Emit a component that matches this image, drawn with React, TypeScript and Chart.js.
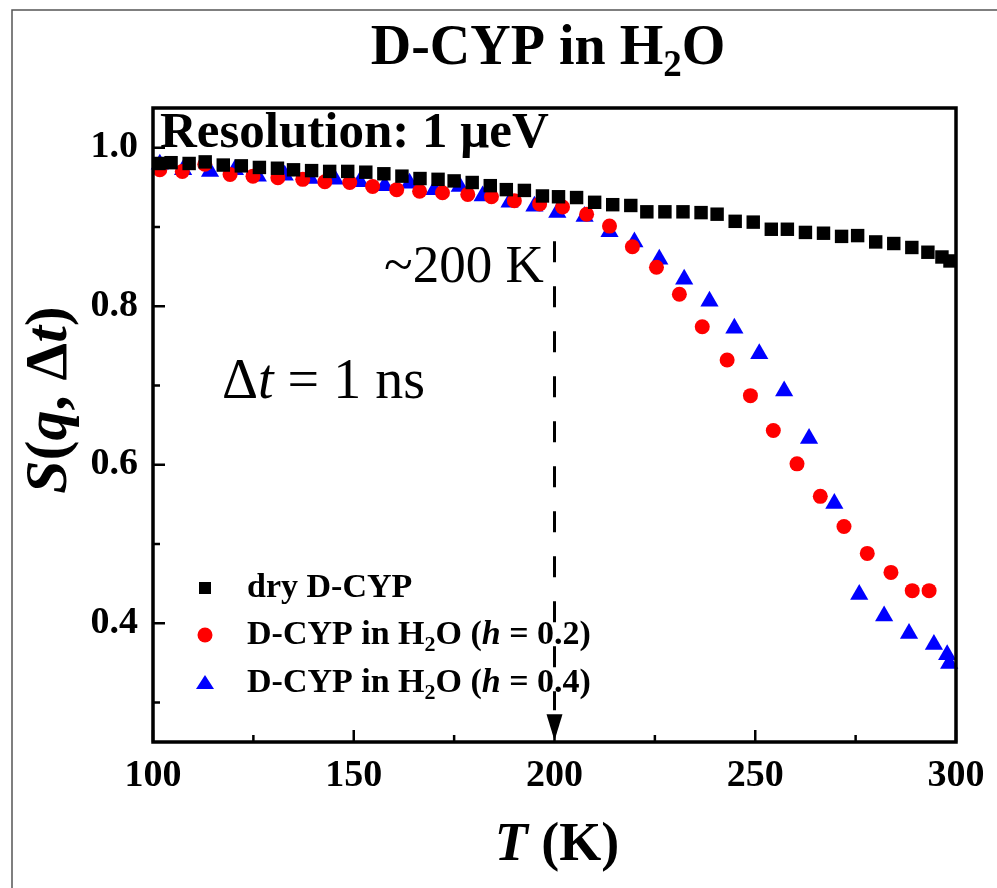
import React, { useEffect, useRef } from 'react';
import { Chart, registerables } from 'chart.js';

Chart.register(...registerables);

const FONT = '"Liberation Serif", "Times New Roman", serif';

// dry D-CYP (squares)
const dryT = [101.5, 104.5, 109, 113, 117.5, 122, 126.5, 131, 135, 139.5, 144, 148.5, 153, 157.5, 162, 166.5, 171, 175, 179.5, 184,
  188, 192.5, 197, 201, 205.5, 210, 214.5, 219, 223, 227.5, 232, 236.5, 240.5, 245, 249.5, 254, 258, 262.5, 267, 271.5, 275.5, 280,
  284.5, 289, 293, 296.5, 298.5];
const dryS = [0.980, 0.981, 0.980, 0.982, 0.978, 0.977, 0.975, 0.974, 0.972, 0.971, 0.970, 0.970, 0.969, 0.967, 0.964, 0.961, 0.960, 0.958, 0.956, 0.952,
  0.947, 0.946, 0.939, 0.938, 0.937, 0.931, 0.928, 0.927, 0.919, 0.919, 0.919, 0.918, 0.916, 0.907, 0.906, 0.897, 0.897, 0.893, 0.892, 0.888, 0.889, 0.881,
  0.879, 0.874, 0.868, 0.862, 0.857];

// D-CYP in H2O (h = 0.2) (circles)
const h02T = [101.7, 107.3, 112.9, 119.2, 124.9, 131.1, 137.3, 142.8, 149.0, 154.7, 160.7, 166.4, 172.1, 178.4, 184.3, 190.0, 196.3, 202.0,
  208.0, 213.7, 219.4, 225.4, 231.1, 236.8, 243.0, 248.8, 254.5, 260.4, 266.2, 272.1, 277.9, 283.8, 289.1, 293.3];
const h02S = [0.972, 0.970, 0.979, 0.966, 0.964, 0.962, 0.960, 0.957, 0.956, 0.951, 0.947, 0.945, 0.943, 0.941, 0.938, 0.933, 0.929, 0.925,
  0.916, 0.901, 0.875, 0.849, 0.815, 0.774, 0.732, 0.687, 0.643, 0.601, 0.560, 0.522, 0.488, 0.464, 0.441, 0.441];

// D-CYP in H2O (h = 0.4) (triangles)
const h04T = [101.7, 107.5, 114.2, 120.4, 126.1, 132.8, 139.1, 145.3, 151.5, 157.7, 163.9, 170.1, 176.4, 182.1, 188.8, 195.0, 200.7,
  207.5, 213.7, 219.9, 226.1, 232.3, 238.6, 244.8, 251.0, 257.2, 263.4, 269.7, 275.9, 282.1, 288.3, 294.5, 297.8, 298.3];
const h04S = [0.979, 0.972, 0.970, 0.972, 0.964, 0.965, 0.961, 0.960, 0.957, 0.952, 0.955, 0.947, 0.951, 0.939, 0.931, 0.926, 0.918,
  0.913, 0.894, 0.881, 0.859, 0.834, 0.806, 0.772, 0.740, 0.693, 0.633, 0.551, 0.436, 0.409, 0.387, 0.373, 0.360, 0.349];

const xMajorTicks = [100, 150, 200, 250, 300];
const xMinorTicks = [125, 175, 225, 275];
const yMajorTicks = [0.4, 0.6, 0.8, 1.0];
const yMinorTicks = [0.3, 0.5, 0.7, 0.9];

const xRange = [100, 300];
const yRange = [0.25, 1.05];

const transitionT = 200;
const dashRange = [0.882, 0.29];
const arrowRange = [0.285, 0.252];

type Part = { t: string; b?: boolean; i?: boolean; sub?: boolean };

function fontFor(p: Part, size: number, defBold: boolean) {
  const bold = p.b === undefined ? defBold : p.b;
  const s = p.sub ? Math.round(size * 0.66) : size;
  return `${p.i ? 'italic ' : ''}${bold ? 'bold ' : ''}${s}px ${FONT}`;
}

function drawRich(ctx: CanvasRenderingContext2D, parts: Part[], x: number, y: number, size: number, align: 'left' | 'center', defBold: boolean) {
  ctx.save();
  ctx.textBaseline = 'middle';
  ctx.textAlign = 'left';
  ctx.fillStyle = '#000';
  const widths = parts.map((p) => {
    ctx.font = fontFor(p, size, defBold);
    return ctx.measureText(p.t).width;
  });
  const total = widths.reduce((a, b) => a + b, 0);
  let cx = align === 'center' ? x - total / 2 : x;
  parts.forEach((p, k) => {
    ctx.font = fontFor(p, size, defBold);
    ctx.fillText(p.t, cx, p.sub ? y + size * 0.3 : y);
    cx += widths[k];
  });
  ctx.restore();
}

const decorPlugin = {
  id: 'decor',
  afterDatasetsDraw(chart: any) {
    const { ctx, chartArea, scales } = chart;
    const { left, right, top, bottom } = chartArea;
    const xs = scales.x;
    const ys = scales.y;
    ctx.save();

    // outer picture frame
    ctx.strokeStyle = '#555';
    ctx.lineWidth = 1.5;
    ctx.beginPath();
    ctx.moveTo(12, 888);
    ctx.lineTo(12, 10);
    ctx.lineTo(997, 10);
    ctx.stroke();

    // dashed transition line
    const px = xs.getPixelForValue(transitionT);
    ctx.strokeStyle = '#000';
    ctx.lineWidth = 3;
    ctx.setLineDash([21, 24]);
    ctx.beginPath();
    ctx.moveTo(px, ys.getPixelForValue(dashRange[0]));
    ctx.lineTo(px, ys.getPixelForValue(dashRange[1]));
    ctx.stroke();
    ctx.setLineDash([]);
    // arrow head
    const aTop = ys.getPixelForValue(arrowRange[0]);
    const aTip = ys.getPixelForValue(arrowRange[1]);
    ctx.fillStyle = '#000';
    ctx.beginPath();
    ctx.moveTo(px - 8, aTop);
    ctx.lineTo(px + 8, aTop);
    ctx.lineTo(px, aTip);
    ctx.closePath();
    ctx.fill();

    // inward ticks
    ctx.lineWidth = 2.5;
    ctx.beginPath();
    xMajorTicks.forEach((v) => {
      const p = xs.getPixelForValue(v);
      ctx.moveTo(p, bottom);
      ctx.lineTo(p, bottom - 12);
    });
    xMinorTicks.forEach((v) => {
      const p = xs.getPixelForValue(v);
      ctx.moveTo(p, bottom);
      ctx.lineTo(p, bottom - 7);
    });
    yMajorTicks.forEach((v) => {
      const p = ys.getPixelForValue(v);
      ctx.moveTo(left, p);
      ctx.lineTo(left + 12, p);
    });
    yMinorTicks.forEach((v) => {
      const p = ys.getPixelForValue(v);
      ctx.moveTo(left, p);
      ctx.lineTo(left + 7, p);
    });
    ctx.stroke();

    // plot frame
    ctx.lineWidth = 3.5;
    ctx.strokeRect(left, top, right - left, bottom - top);

    // title
    drawRich(ctx, [{ t: 'D-CYP in H' }, { t: '2', sub: true }, { t: 'O' }], 548, 50, 56, 'center', true);

    // annotations
    drawRich(ctx, [{ t: 'Resolution: 1 \u03bceV' }], 160, 134, 51, 'left', true);
    drawRich(ctx, [{ t: '~200 K' }], 384, 268, 53, 'left', false);
    drawRich(ctx, [{ t: '\u0394' }, { t: 't', i: true }, { t: ' = 1 ns' }], 222, 383, 56, 'left', false);

    // axis titles
    drawRich(ctx, [{ t: 'T', i: true }, { t: ' (K)' }], 557, 846, 54, 'center', true);
    ctx.save();
    ctx.translate(50, 400);
    ctx.rotate(-Math.PI / 2);
    drawRich(ctx, [{ t: 'S', i: true }, { t: '(' }, { t: 'q', i: true }, { t: ', \u0394' }, { t: 't', i: true }, { t: ')' }], 0, 0, 60, 'center', true);
    ctx.restore();

    // legend
    const rows: { style: string; color: string; parts: Part[] }[] = [
      { style: 'rect', color: '#000', parts: [{ t: 'dry D-CYP' }] },
      { style: 'circle', color: '#ff0000', parts: [{ t: 'D-CYP in H' }, { t: '2', sub: true }, { t: 'O (' }, { t: 'h', i: true }, { t: ' = 0.2)' }] },
      { style: 'triangle', color: '#0000ff', parts: [{ t: 'D-CYP in H' }, { t: '2', sub: true }, { t: 'O (' }, { t: 'h', i: true }, { t: ' = 0.4)' }] },
    ];
    const rowY = [588, 635, 683];
    rows.forEach((r, k) => {
      const my = rowY[k];
      const mx = 205;
      ctx.fillStyle = r.color;
      ctx.beginPath();
      if (r.style === 'rect') {
        ctx.rect(mx - 6, my - 6, 12, 12);
      } else if (r.style === 'circle') {
        ctx.arc(mx, my, 7.5, 0, Math.PI * 2);
      } else {
        ctx.moveTo(mx, my - 8);
        ctx.lineTo(mx + 9, my + 6);
        ctx.lineTo(mx - 9, my + 6);
        ctx.closePath();
      }
      ctx.fill();
      drawRich(ctx, r.parts, 247, my, 34, 'left', true);
    });

    ctx.restore();
  },
};

function toPoints(xs: number[], ys: number[]) {
  return xs.map((x, i) => ({ x, y: ys[i] }));
}

export default function App() {
  const ref = useRef<HTMLCanvasElement>(null);
  useEffect(() => {
    document.body.style.margin = '0';
    document.body.style.overflow = 'hidden';
    const canvas = ref.current!;
    const chart = new Chart(canvas, {
      type: 'scatter',
      data: {
        datasets: [
          {
            label: 'dry D-CYP',
            data: toPoints(dryT, dryS),
            pointStyle: 'rect',
            pointRadius: 9.5,
            backgroundColor: '#000',
            borderWidth: 0,
            clip: false as any,
          },
          {
            label: 'D-CYP in H2O (h = 0.2)',
            data: toPoints(h02T, h02S),
            pointStyle: 'circle',
            pointRadius: 7.5,
            backgroundColor: '#ff0000',
            borderWidth: 0,
            clip: false as any,
          },
          {
            label: 'D-CYP in H2O (h = 0.4)',
            data: toPoints(h04T, h04S),
            pointStyle: 'triangle',
            pointRadius: 10.5,
            backgroundColor: '#0000ff',
            borderWidth: 0,
            clip: false as any,
          },
        ],
      },
      options: {
        responsive: false,
        animation: false,
        devicePixelRatio: 1,
        layout: { padding: { top: 108, right: 41, left: 0, bottom: 0 } },
        plugins: { legend: { display: false }, tooltip: { enabled: false }, title: { display: false } },
        scales: {
          x: {
            type: 'linear',
            min: xRange[0],
            max: xRange[1],
            grid: { display: false, drawTicks: false },
            border: { display: false },
            afterBuildTicks: (s: any) => {
              s.ticks = xMajorTicks.map((v) => ({ value: v }));
            },
            afterFit: (s: any) => {
              s.height = 146;
            },
            ticks: {
              padding: 11,
              color: '#000',
              maxRotation: 0,
              font: { family: FONT, size: 38, weight: 'bold' },
              callback: (v: any) => String(v),
            },
          },
          y: {
            type: 'linear',
            min: yRange[0],
            max: yRange[1],
            grid: { display: false, drawTicks: false },
            border: { display: false },
            afterBuildTicks: (s: any) => {
              s.ticks = yMajorTicks.map((v) => ({ value: v }));
            },
            afterFit: (s: any) => {
              s.width = 153;
            },
            ticks: {
              padding: 15,
              color: '#000',
              font: { family: FONT, size: 38, weight: 'bold' },
              callback: (v: any) => Number(v).toFixed(1),
            },
          },
        },
      },
      plugins: [decorPlugin],
    });
    return () => chart.destroy();
  }, []);
  return <canvas ref={ref} width={997} height={888} style={{ display: 'block', width: 997, height: 888 }} />;
}
